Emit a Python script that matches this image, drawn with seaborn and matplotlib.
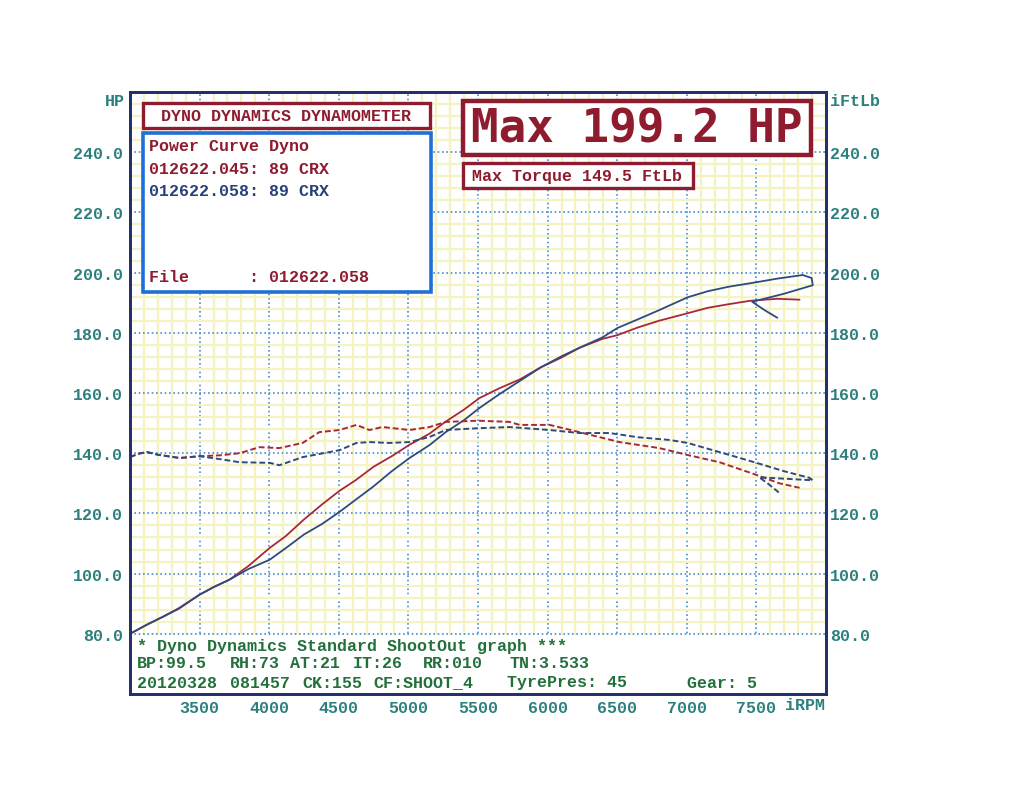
import numpy as np
import pandas as pd
import matplotlib
matplotlib.use("Agg")
import matplotlib.pyplot as plt
import seaborn as sns
from matplotlib.patches import Rectangle
from matplotlib.ticker import FixedLocator, MultipleLocator

# ---------------- data ----------------
rpm_hp_045 = [3000, 3120, 3234, 3350, 3500, 3600, 3715, 3850, 4003, 4120, 4250, 4380,
              4505, 4620, 4750, 4880, 5008, 5152, 5268, 5400, 5510, 5650, 5800, 5950,
              6100, 6228, 6395, 6500, 6650, 6800, 7006, 7150, 7300, 7450, 7500, 7650, 7810]
hp_045 = [80, 83, 85.6, 88.5, 93, 95.5, 98, 102.5, 108.5, 112.5, 118, 123,
          127.5, 131, 135.5, 139, 142.8, 146.5, 150.5, 154.5, 158.3, 161.5, 164.5, 168.5,
          171.8, 175, 178, 179.2, 181.8, 184, 186.5, 188.3, 189.5, 190.6, 190.8, 191.3, 191]

rpm_hp_058 = [3000, 3120, 3234, 3350, 3500, 3600, 3715, 3850, 4003, 4120, 4250, 4380,
              4505, 4620, 4750, 4880, 5008, 5152, 5268, 5400, 5510, 5650, 5800, 5950,
              6100, 6228, 6395, 6502, 6650, 6800, 7006, 7150, 7300, 7500, 7650, 7832,
              7897, 7905, 7700, 7470, 7560, 7650]
hp_058 = [80, 83, 85.6, 88.3, 93, 95.5, 98, 101.5, 104.6, 108.5, 113, 116.5,
          120.5, 124.5, 129, 134, 138.4, 142.7, 147, 151, 155, 159.5, 164, 168.5,
          172.2, 175, 178.5, 181.6, 184.5, 187.5, 191.8, 193.8, 195.3, 196.8, 198, 199.2,
          198.2, 195.8, 193, 190.3, 187.5, 185]

rpm_tq_045 = [3000, 3060, 3120, 3200, 3357, 3500, 3650, 3787, 3930, 4073, 4240, 4360,
              4505, 4627, 4720, 4814, 5008, 5152, 5268, 5500, 5726, 5800, 6015, 6228,
              6516, 6803, 7006, 7235, 7500, 7665, 7810]
tq_045 = [138.7, 139.8, 140.4, 139.5, 138.4, 139, 139.3, 140, 142, 141.7, 143.4, 147,
          147.7, 149.4, 147.7, 148.7, 147.7, 148.7, 150.4, 150.8, 150.4, 149.4, 149.4, 147,
          143.7, 141.7, 139.4, 137, 132.8, 130, 128.5]

rpm_tq_058 = [3000, 3060, 3120, 3200, 3357, 3500, 3650, 3787, 4003, 4073, 4240, 4505,
              4627, 4720, 4864, 5008, 5152, 5268, 5500, 5726, 6015, 6228, 6445, 6650,
              6876, 7006, 7308, 7500, 7700, 7882, 7905, 7520, 7580, 7665]
tq_058 = [138.7, 139.8, 140.4, 139.5, 138.4, 139, 138, 137, 136.8, 136, 138.7, 141,
          143.4, 143.7, 143.4, 143.7, 145.4, 147.7, 148.3, 148.7, 147.7, 146.7, 146.7, 145.3,
          144.4, 143.4, 139.4, 136.8, 134, 131.8, 131, 132, 130, 126.8]

x_ticks = [3500, 4000, 4500, 5000, 5500, 6000, 6500, 7000, 7500]
y_ticks = [80, 100, 120, 140, 160, 180, 200, 220, 240]

# ---------------- style ----------------
sns.set_style("white")
plt.rcParams['font.family'] = ['Liberation Mono', 'DejaVu Sans Mono']
plt.rcParams['font.weight'] = 'bold'

RED = "#8e1b2e"
NAVY = "#27407a"
GREEN = "#23703c"
TEAL = "#2b7f7c"
FRAME = "#23306b"
CURVE_RED = "#a8283a"
CURVE_BLUE = "#2e4a82"

W, H = 1023, 812
fig = plt.figure(figsize=(W / 100, H / 100), dpi=100)
fig.patch.set_facecolor("white")


def fx(x):
    return x / W


def fy(y):
    return 1 - y / H


ax = fig.add_axes([fx(130), fy(695), (826 - 130) / W, (695 - 93) / H])
ax.set_facecolor("white")
ax.set_xlim(3000, 8000)
ax.set_ylim(60, 260)
ax.set_axisbelow(True)

ax.xaxis.set_major_locator(FixedLocator(x_ticks))
ax.yaxis.set_major_locator(FixedLocator(y_ticks))
ax.xaxis.set_minor_locator(MultipleLocator(100))
ax.yaxis.set_minor_locator(MultipleLocator(4))
ax.grid(which="minor", color="#f5f3c2", lw=1.6)
ax.grid(which="major", color="#4a8ccc", lw=1.2, ls=(0, (1, 1.6)))

ax.set_xticklabels([str(v) for v in x_ticks])
ax.set_yticklabels([f"{v:.1f}" for v in y_ticks])
ax.tick_params(axis="both", which="both", length=0, labelsize=12, labelcolor=TEAL)
ax.tick_params(axis="y", pad=5)
ax.tick_params(axis="x", pad=4)
for s in ax.spines.values():
    s.set_color(FRAME)
    s.set_linewidth(2)
ax.set_xlabel("")
ax.set_ylabel("")

# white info panel below 80
ax.add_patch(Rectangle((3000, 60), 5000, 19.6, facecolor="white", edgecolor="none", zorder=1))

# power curves
sns.lineplot(x=rpm_hp_045, y=hp_045, sort=False, estimator=None, ax=ax,
             color=CURVE_RED, lw=1.3, legend=False, zorder=3)
sns.lineplot(x=rpm_hp_058, y=hp_058, sort=False, estimator=None, ax=ax,
             color=CURVE_BLUE, lw=1.3, legend=False, zorder=3)

# torque on right axis
ax2 = ax.twinx()
ax2.set_ylim(60, 260)
ax2.yaxis.set_major_locator(FixedLocator(y_ticks))
ax2.set_yticklabels([f"{v:.1f}" for v in y_ticks])
ax2.tick_params(axis="y", length=0, labelsize=12, labelcolor=TEAL, pad=3)
ax2.grid(False)
for s in ax2.spines.values():
    s.set_color(FRAME)
    s.set_linewidth(2)
sns.lineplot(x=rpm_tq_045, y=tq_045, sort=False, estimator=None, ax=ax2,
             color=CURVE_RED, lw=1.4, ls=(0, (3, 1.5)), legend=False)
sns.lineplot(x=rpm_tq_058, y=tq_058, sort=False, estimator=None, ax=ax2,
             color=CURVE_BLUE, lw=1.4, ls=(0, (3, 1.5)), legend=False)
ax2.set_ylabel("")
ax2.set_xlim(3000, 8000)

# axis unit labels
fig.text(fx(125), fy(102), "HP", ha="right", va="center", fontsize=12, color=TEAL)
fig.text(fx(830), fy(102), "iFtLb", ha="left", va="center", fontsize=12, color=TEAL)
fig.text(fx(785), fy(706), "iRPM", ha="left", va="center", fontsize=12, color=TEAL)


def box(x0, y0, x1, y1, ec, lw):
    fig.patches.append(Rectangle((fx(x0), fy(y1)), fx(x1) - fx(x0), fy(y0) - fy(y1),
                                 transform=fig.transFigure, facecolor="white",
                                 edgecolor=ec, lw=lw, zorder=5))


box(143, 104, 430, 129, RED, 2.4)
fig.text(fx(286), fy(116.5), "DYNO DYNAMICS DYNAMOMETER", ha="center", va="center",
         fontsize=12, color=RED, zorder=6)

box(143, 134, 431, 293, "#1f6fd6", 2.6)
fig.text(fx(149), fy(147), "Power Curve Dyno", ha="left", va="center", fontsize=12, color=RED, zorder=6)
fig.text(fx(149), fy(170), "012622.045: 89 CRX", ha="left", va="center", fontsize=12, color=RED, zorder=6)
fig.text(fx(149), fy(191), "012622.058: 89 CRX", ha="left", va="center", fontsize=12, color=NAVY, zorder=6)
fig.text(fx(149), fy(278), "File      : 012622.058", ha="left", va="center", fontsize=12, color=RED, zorder=6)

box(463, 102, 811, 156, RED, 3.2)
fig.text(fx(637), fy(130), "Max 199.2 HP", ha="center", va="center", fontsize=33,
         color=RED, family="DejaVu Sans Mono", zorder=6)

box(463, 164, 693, 189, RED, 2.4)
fig.text(fx(472), fy(177), "Max Torque 149.5 FtLb", ha="left", va="center", fontsize=12,
         color=RED, zorder=6)

# bottom info panel text
fig.text(fx(137), fy(647), "* Dyno Dynamics Standard ShootOut graph ***", ha="left",
         va="center", fontsize=12, color=GREEN)
for xp, s in [(137, "BP:99.5"), (230, "RH:73"), (290, "AT:21"), (353, "IT:26"),
              (423, "RR:010"), (510, "TN:3.533")]:
    fig.text(fx(xp), fy(664), s, ha="left", va="center", fontsize=12, color=GREEN)
for xp, s in [(137, "20120328"), (230, "081457"), (302, "CK:155"), (373, "CF:SHOOT_4"),
              (507, "TyrePres: 45"), (687, "Gear: 5")]:
    fig.text(fx(xp), fy(683), s, ha="left", va="center", fontsize=12, color=GREEN)

fig.savefig("out.png", dpi=100, facecolor="white")
